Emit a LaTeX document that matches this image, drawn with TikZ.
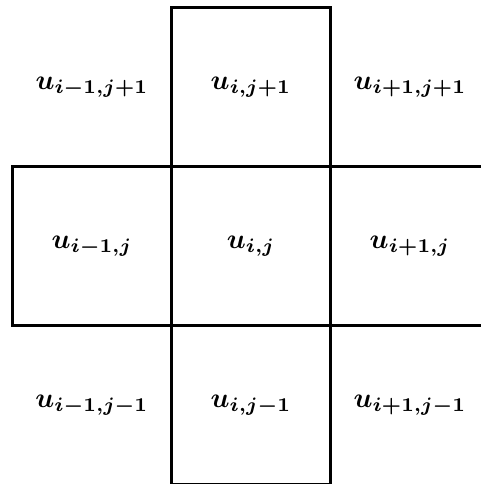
\documentclass[tikz,border=0pt]{standalone}
\usepackage{amsmath}

\tikzset{
  cell/.style={draw, thick, minimum width=2cm, minimum height=2cm,
               inner sep=0pt, font=\boldmath},
  corner/.style={minimum width=2cm, minimum height=2cm, inner sep=0pt,
                 font=\boldmath},
}

\begin{document}
\begin{tikzpicture}
    % Five-point stencil: centre cell (i,j) with its four neighbours boxed,
    % the four diagonal neighbours only labelled.
    % Coordinates: (x, y), one cell = 2cm, centre cell at (0,0)
    %   picture cut at x=-3.157..2.893, y=-2.994..3.094
    \useasboundingbox (-3.157,-2.994) rectangle (2.893,3.094);
    \clip (-3.157,-2.994) rectangle (2.893,3.094);
    % corners, no frame
    \node[corner] (nw) at (-2, 2) {$u_{i-1,j+1}$};
    \node[corner] (ne) at ( 2, 2) {$u_{i+1,j+1}$};
    \node[corner] (sw) at (-2,-2) {$u_{i-1,j-1}$};
    \node[corner] (se) at ( 2,-2) {$u_{i+1,j-1}$};
    % boxed neighbours
    \node[cell] (n) at ( 0, 2) {$u_{i,j+1}$};
    \node[cell] (w) at (-2, 0) {$u_{i-1,j}$};
    \node[cell] (e) at ( 2, 0) {$u_{i+1,j}$};
    \node[cell] (s) at ( 0,-2) {$u_{i,j-1}$};
    % centre cell, heavier frame
    \node[cell, very thick] (c) at (0,0) {$u_{i,j}$};
\end{tikzpicture}
\end{document}
